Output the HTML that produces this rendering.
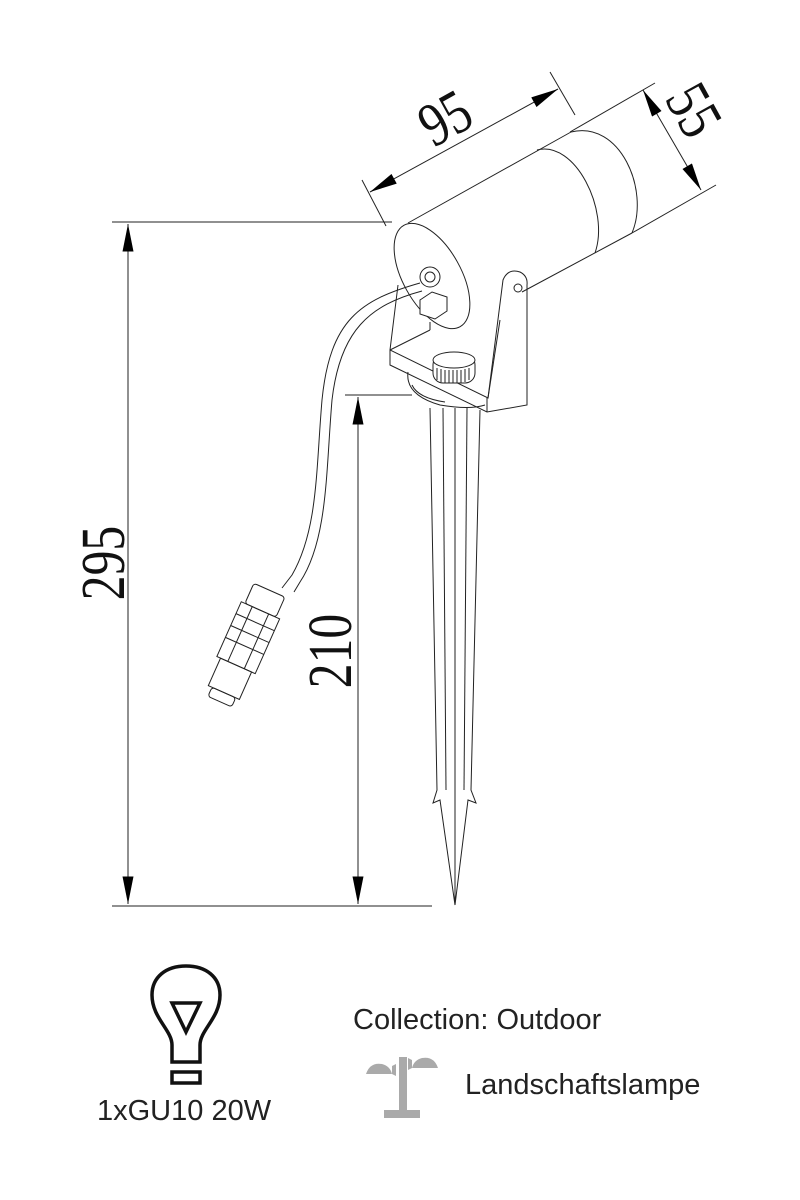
<!DOCTYPE html>
<html><head><style>
html,body{margin:0;padding:0;background:#fff;width:800px;height:1200px;overflow:hidden}
svg{display:block}
.t{font-family:"Liberation Sans",sans-serif;fill:#222;font-size:29px}
.s{font-family:"Liberation Serif",serif;fill:#111;font-size:62px}
</style></head><body>
<svg width="800" height="1200" viewBox="0 0 800 1200" xmlns="http://www.w3.org/2000/svg">
<defs>
<marker id="b" viewBox="0 0 30 12" refX="30" refY="6" markerWidth="28" markerHeight="11" markerUnits="userSpaceOnUse" orient="auto-start-reverse"><path d="M0,0 L30,6 L0,12z" fill="#000"/></marker>
</defs>
<g stroke="#222" stroke-width="1" fill="none">
<line x1="112" y1="222" x2="392" y2="222"/>
<line x1="112" y1="906" x2="432" y2="906"/>
<line x1="128" y1="224" x2="128" y2="904" marker-start="url(#b)" marker-end="url(#b)"/>
<line x1="345" y1="395" x2="412" y2="395"/>
<line x1="358" y1="397" x2="358" y2="904" marker-start="url(#b)" marker-end="url(#b)"/>
<line x1="362" y1="180" x2="386" y2="226"/>
<line x1="550" y1="72" x2="575" y2="115"/>
<line x1="370" y1="192" x2="558" y2="89" marker-start="url(#b)" marker-end="url(#b)"/>
<line x1="570" y1="132" x2="655" y2="83"/>
<line x1="632" y1="233" x2="716" y2="185"/>
<line x1="643" y1="90" x2="701" y2="190" marker-start="url(#b)" marker-end="url(#b)"/>
<line x1="408" y1="223" x2="571" y2="132"/>
<line x1="522" y1="292" x2="632" y2="233"/>
<path d="M571,132 C620,120 650,190 632,233"/>
<path d="M537,150 C575,140 610,210 595,253"/>
<ellipse cx="432" cy="276" rx="29" ry="58" transform="rotate(-29 432 276)" fill="#fff"/>
<circle cx="430" cy="277" r="10" fill="#fff"/><circle cx="430" cy="277" r="5"/>
<path d="M420,300 l12,-8 l15,5 l0,14 l-12,8 l-15,-5z" fill="#fff"/>
<path d="M398,285 L390,350 L488,398 L503,280 Q508,268 520,272 Q528,276 527,285 L527,405 L487,412 L390,365 L390,350"/>
<line x1="487" y1="398" x2="487" y2="412"/>
<line x1="390" y1="350" x2="430" y2="330"/>
<line x1="430" y1="330" x2="430" y2="322"/>
<line x1="488" y1="398" x2="500" y2="320"/>
<circle cx="518" cy="288" r="4"/>
<path d="M408,372 Q405,395 440,405 Q470,410 485,405"/>
<path d="M412,385 Q418,398 445,402"/>
<rect x="433" y="355" width="42" height="28" rx="10" fill="#fff"/>
<ellipse cx="454" cy="360" rx="21" ry="8" fill="#fff"/>
<path d="M437,368 v12 M441,369 v13 M445,370 v13 M449,370 v13 M453,370 v13 M457,370 v13 M461,370 v13 M465,369 v13 M469,368 v12"/>
<path d="M430,408 L437,790 L433,803 L440,800 L455,905 L468,800 L476,803 L471,790 L480,410"/>
<line x1="455" y1="408" x2="455" y2="905"/>
<line x1="443" y1="408" x2="446" y2="790"/>
<line x1="467" y1="408" x2="464" y2="790"/>
<path d="M420,283 C360,300 330,320 322,400 C316,470 318,530 292,575 L282,588"/>
<path d="M422,291 C370,305 340,330 332,400 C326,470 328,540 300,582 L294,592"/>
<g transform="rotate(24 245 645)">
<rect x="228" y="585" width="34" height="22" rx="3"/>
<rect x="224" y="607" width="42" height="60"/>
<line x1="224" y1="620" x2="266" y2="620"/><line x1="224" y1="633" x2="266" y2="633"/><line x1="224" y1="646" x2="266" y2="646"/>
<line x1="236" y1="607" x2="236" y2="667"/><line x1="254" y1="607" x2="254" y2="667"/>
<rect x="228" y="667" width="34" height="30"/>
<rect x="232" y="697" width="26" height="10" rx="3"/>
</g>
</g>
<text class="s" transform="translate(124,563) rotate(-90) scale(0.8,1)" text-anchor="middle">295</text>
<text class="s" transform="translate(351,651) rotate(-90) scale(0.8,1)" text-anchor="middle">210</text>
<text class="s" transform="translate(455,136) rotate(-29) scale(0.8,1)" text-anchor="middle">95</text>
<text class="s" transform="translate(676,120) rotate(61) scale(0.8,1)" text-anchor="middle">55</text>
<g stroke="#111" stroke-width="3.5" fill="none">
<path d="M172,1062 L172,1045 C172,1030 152,1018 152,995 C152,977 166,966 186,966 C206,966 220,977 220,995 C220,1018 200,1030 200,1045 L200,1062 Z"/>
<path d="M172,1003 L200,1003 L186,1032 Z"/>
<rect x="172" y="1072" width="28" height="11"/>
</g>
<text class="t" x="97" y="1120">1xGU10 20W</text>
<text class="t" x="353" y="1029">Collection: Outdoor</text>
<text class="t" x="465" y="1094">Landschaftslampe</text>
<g fill="#aaa">
<rect x="399" y="1057" width="8" height="55"/>
<rect x="384" y="1110" width="36" height="8"/>
<path d="M366,1074 Q370,1062 382,1064 Q390,1066 392,1074 Z"/>
<path d="M392,1066 L396,1064 L396,1076 L392,1074Z"/>
<path d="M438,1068 Q434,1056 422,1058 Q414,1060 412,1068 Z"/>
<path d="M412,1060 L408,1058 L408,1070 L412,1068Z"/>
</g>
</svg>
</body></html>
